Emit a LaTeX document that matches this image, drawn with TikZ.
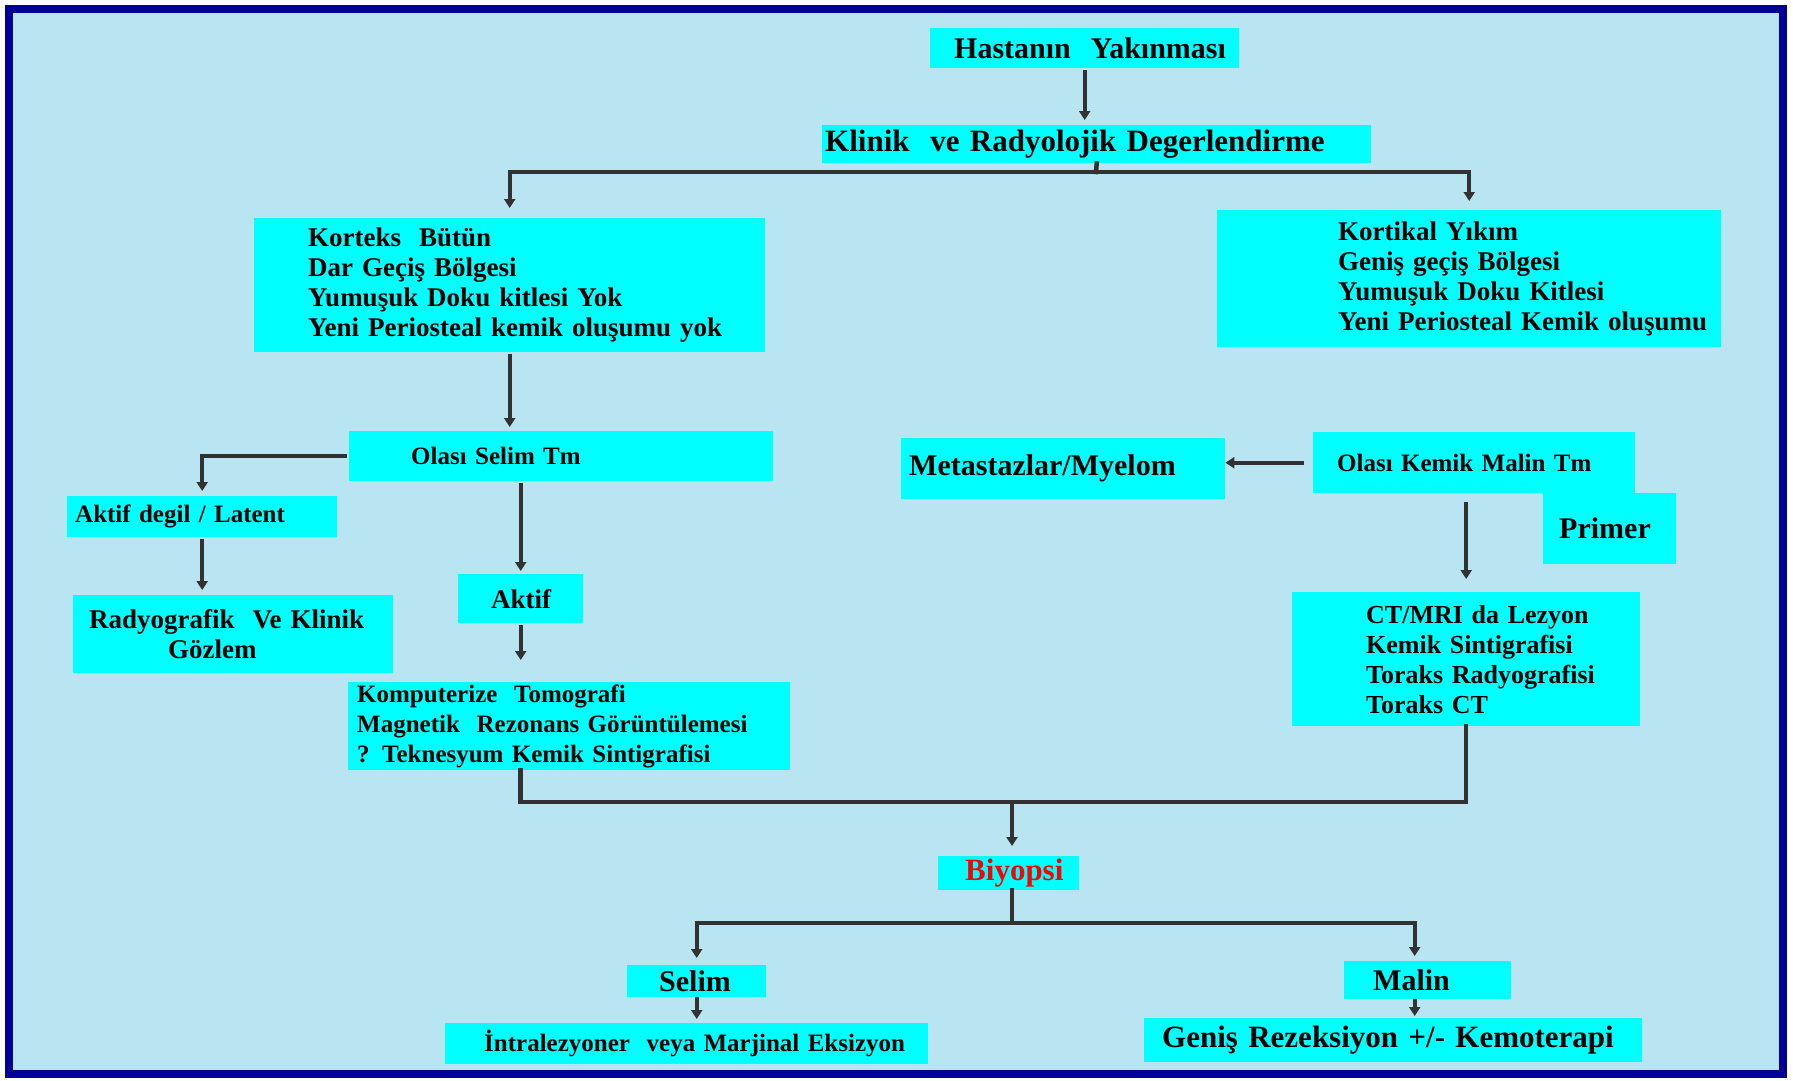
\documentclass[tikz,border=0pt]{standalone}
\usepackage{fontspec}
\setmainfont{Liberation Serif}
\usepackage{xcolor}
\usetikzlibrary{arrows.meta}
\definecolor{bgblue}{RGB}{185,228,242}
\definecolor{boxcyan}{RGB}{0,255,255}
\definecolor{framenavy}{RGB}{0,0,150}
\definecolor{linegray}{RGB}{50,50,50}
\newcommand{\boxfont}[1]{\fontsize{#1}{30}\selectfont\bfseries}

\begin{document}
\begin{tikzpicture}[x=1pt,y=-1pt,
  box/.style={fill=boxcyan, anchor=north west, inner sep=0pt, align=left, font=\boxfont{27}},
  pad/.style={execute at begin node={\leftskip=#1pt}},
  flow/.style={draw=linegray, line width=4pt, -{Triangle[length=9pt,width=11pt]}, shorten >=5pt, shorten <=2pt},
  link/.style={draw=linegray, line width=4.5pt, line cap=rect}]
\useasboundingbox (0,0) rectangle (1793,1081);
\fill[white] (0,0) rectangle (1793,1081);
\fill[bgblue] (9,9) rectangle (1783,1074);
\draw[framenavy, line width=8pt] (9,9) rectangle (1783,1074);

% top
\node[box, text width=309pt, minimum height=40pt, pad=24, font=\boxfont{30}] (hasta) at (930,28) {Hastanın\ \ Yakınması};
\node[box, text width=549pt, minimum height=38pt, pad=3, font=\boxfont{31}] (klinik) at (822,125) {Klinik\ \ ve Radyolojik Degerlendirme};

% left side
\node[box, text width=511pt, minimum height=134pt, pad=54] (korteks) at (254,218)
  {Korteks\ \ Bütün\\ Dar Geçiş Bölgesi\\ Yumuşuk Doku kitlesi Yok\\ Yeni Periosteal kemik oluşumu yok};
\node[box, text width=424pt, minimum height=50pt, pad=62, font=\boxfont{25}] (oselim) at (349,431) {Olası Selim Tm};
\node[box, text width=270pt, minimum height=41pt, pad=8, font=\boxfont{25}] (latent) at (67,496) {Aktif degil / Latent};
\node[box, text width=320pt, minimum height=78pt, pad=16] (gozlem) at (73,595)
  {Radyografik\ \ Ve Klinik\\ \hspace*{79pt}Gözlem};
\node[box, text width=125pt, minimum height=49pt, pad=33] (aktif) at (458,574) {Aktif};
\node[box, text width=442pt, minimum height=88pt, pad=9, font=\boxfont{25}] (komp) at (348,682)
  {Komputerize\ \ Tomografi\\ Magnetik\ \ Rezonans Görüntülemesi\\ ? Teknesyum Kemik Sintigrafisi};

% right side
\node[box, text width=504pt, minimum height=137pt, pad=121] (kortikal) at (1217,210)
  {Kortikal Yıkım\\ Geniş geçiş Bölgesi\\ Yumuşuk Doku Kitlesi\\ Yeni Periosteal Kemik oluşumu};
\node[box, text width=322pt, minimum height=61pt, pad=24, font=\boxfont{25}] (okemik) at (1313,432) {Olası Kemik Malin Tm};
\node[box, text width=324pt, minimum height=61pt, pad=8, font=\boxfont{30}] (meta) at (901,438) {Metastazlar/Myelom};
\node[box, text width=133pt, minimum height=71pt, pad=16, font=\boxfont{30}] (primer) at (1543,493) {Primer};
\node[box, text width=348pt, minimum height=134pt, pad=74, font=\boxfont{26}] (ct) at (1292,592)
  {CT/MRI da Lezyon\\ Kemik Sintigrafisi\\ Toraks Radyografisi\\ Toraks CT};

% bottom
\node[box, text width=141pt, minimum height=34pt, pad=27, font=\boxfont{31}, text=red] (biyopsi) at (938,856) {Biyopsi};
\node[box, text width=139pt, minimum height=32pt, pad=32, font=\boxfont{30}] (selim) at (627,965) {Selim};
\node[box, text width=167pt, minimum height=38pt, pad=29, font=\boxfont{30}] (malin) at (1344,961) {Malin};
\node[box, text width=483pt, minimum height=41pt, pad=39, font=\boxfont{25}] (intra) at (445,1023) {İntralezyoner\ \ veya Marjinal Eksizyon};
\node[box, text width=498pt, minimum height=44pt, pad=18, font=\boxfont{31}] (genis) at (1144,1018) {Geniş Rezeksiyon +/- Kemoterapi};

\coordinate (split1) at (1096,172);
\coordinate (merge) at (1012,802);
\coordinate (split2) at (1012,923);

% connectors
\draw[flow] (hasta.south) -- (hasta.south |- klinik.north);
\draw[link] (klinik.south) -- (split1);
\draw[flow, shorten <=0pt, shorten >=10pt] (split1) -| (korteks.north);
\draw[flow, shorten <=0pt, shorten >=9pt] (split1) -| (kortikal.north);
\draw[flow, shorten >=4pt] (korteks.south) -- (korteks.south |- oselim.north);
\draw[flow] (oselim.west) -| (latent.north);
\draw[flow] (latent.south) -- (latent.south |- gozlem.north);
\draw[flow, shorten >=3pt] (aktif.north |- oselim.south) -- (aktif.north);
\draw[flow, shorten >=22pt] (aktif.south) -- (aktif.south |- komp.north);
\draw[flow, shorten <=9pt, shorten >=0pt] (okemik.west) -- (okemik.west -| meta.east);
\draw[flow, shorten <=9pt, shorten >=13pt] (ct.north |- okemik.south) -- (ct.north);
\draw[link] (aktif.south |- komp.south) |- (merge) -| (ct.south);
\draw[flow, shorten <=0pt, shorten >=10pt] (merge) -- (merge |- biyopsi.north);
\draw[link] (biyopsi.south -| split2) -- (split2);
\draw[flow, shorten <=0pt, shorten >=7pt] (split2) -| (selim.north);
\draw[flow, shorten <=0pt] (split2) -| ([xshift=-13pt]malin.north);
\draw[flow, shorten <=0pt, shorten >=4pt] (selim.south) -- (selim.south |- intra.north);
\draw[flow, shorten <=0pt, shorten >=2pt] ([xshift=-13pt]malin.south) -- ([xshift=-13pt]malin.south |- genis.north);
\end{tikzpicture}
\end{document}
